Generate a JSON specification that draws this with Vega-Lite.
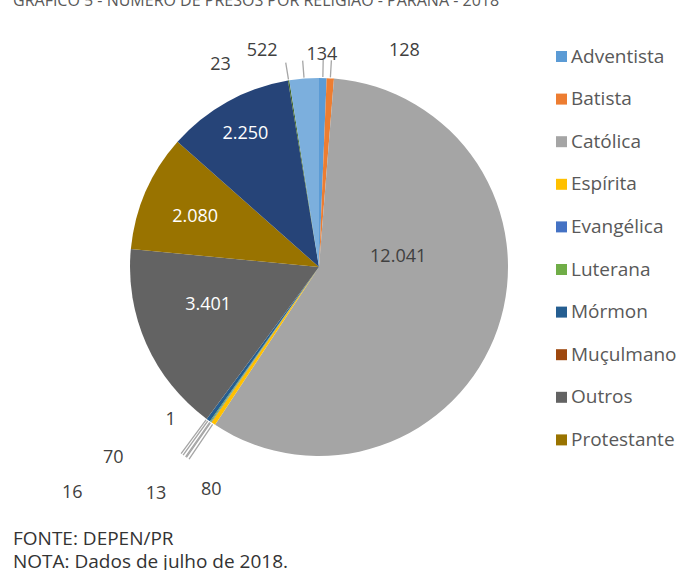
{
  "$schema": "https://vega.github.io/schema/vega-lite/v6.json",
  "width": 638,
  "height": 534,
  "autosize": {"type": "none"},
  "padding": {"left": 0, "top": 0, "right": 39, "bottom": 36},
  "background": "white",
  "title": {
    "text": "GRÁFICO 5 - NÚMERO DE PRESOS POR RELIGIÃO - PARANÁ - 2018",
    "subtitle": ["FONTE: DEPEN/PR", "NOTA: Dados de julho de 2018."],
    "orient": "top",
    "anchor": "start",
    "frame": "group",
    "dx": 13,
    "offset": -572,
    "font": "Open Sans",
    "fontSize": 16,
    "fontWeight": "normal",
    "color": "#595959",
    "subtitleFont": "Open Sans",
    "subtitleFontSize": 19,
    "subtitleColor": "#333333",
    "subtitleLineHeight": 23,
    "subtitlePadding": 521
  },
  "data": {
    "values": [
      {"religiao": "Adventista", "valor": 134},
      {"religiao": "Batista", "valor": 128},
      {"religiao": "Católica", "valor": 12041},
      {"religiao": "Espírita", "valor": 80},
      {"religiao": "Evangélica", "valor": 13},
      {"religiao": "Luterana", "valor": 16},
      {"religiao": "Mórmon", "valor": 70},
      {"religiao": "Muçulmano", "valor": 1},
      {"religiao": "Outros", "valor": 3401},
      {"religiao": "Protestante", "valor": 2080},
      {"religiao": "Sem religião", "valor": 2250},
      {"religiao": "Testemunha de Jeová", "valor": 23},
      {"religiao": "Umbanda", "valor": 522}
    ]
  },
  "transform": [{"window": [{"op": "row_number", "as": "ordem"}]}],
  "layer": [
    {
      "mark": {"type": "arc", "radius": 189},
      "encoding": {
        "theta": {"field": "valor", "type": "quantitative", "stack": true},
        "order": {"field": "ordem", "type": "quantitative"},
        "color": {
          "field": "religiao",
          "type": "nominal",
          "scale": {
            "domain": ["Adventista", "Batista", "Católica", "Espírita", "Evangélica", "Luterana", "Mórmon", "Muçulmano", "Outros", "Protestante", "Sem religião", "Testemunha de Jeová", "Umbanda"],
            "range": ["#5B9BD5", "#ED7D31", "#A5A5A5", "#FFC000", "#4472C4", "#70AD47", "#255E91", "#9E480E", "#636363", "#997300", "#264478", "#43682B", "#7CAFDD"]
          },
          "legend": {
            "orient": "none",
            "legendX": 552,
            "legendY": 47,
            "title": null,
            "padding": 0,
            "values": ["Adventista", "Batista", "Católica", "Espírita", "Evangélica", "Luterana", "Mórmon", "Muçulmano", "Outros", "Protestante"],
            "symbolType": "square",
            "symbolSize": 121,
            "symbolStrokeWidth": 0,
            "labelFont": "Open Sans",
            "labelFontSize": 19,
            "labelColor": "#595959",
            "labelOffset": 0,
            "labelLimit": 200,
            "rowPadding": 22.6
          }
        }
      }
    },
    {
      "mark": {"type": "arc", "radius": 207, "radius2": 190, "padAngle": 1.5, "fillOpacity": 0, "stroke": "#a6a6a6", "strokeWidth": 1.3},
      "encoding": {
        "theta": {"field": "valor", "type": "quantitative", "stack": true},
        "order": {"field": "ordem", "type": "quantitative"},
        "strokeOpacity": {"condition": {"test": "indexof(['Adventista','Batista','Testemunha de Jeová','Umbanda'], datum.religiao) >= 0", "value": 1}, "value": 0}
      }
    },
    {
      "mark": {"type": "arc", "radius": 232, "radius2": 190, "padAngle": 1.5, "fillOpacity": 0, "stroke": "#a6a6a6", "strokeWidth": 1.3},
      "encoding": {
        "theta": {"field": "valor", "type": "quantitative", "stack": true},
        "order": {"field": "ordem", "type": "quantitative"},
        "strokeOpacity": {"condition": {"test": "indexof(['Espírita','Evangélica','Luterana','Mórmon','Muçulmano'], datum.religiao) >= 0", "value": 1}, "value": 0}
      }
    },
    {"mark": {"type": "text", "radius": 89, "dx": -5, "dy": -39, "font": "Open Sans", "fontSize": 18, "color": "#404040"},
     "encoding": {"theta": {"field": "valor", "type": "quantitative", "stack": true}, "order": {"field": "ordem", "type": "quantitative"}, "text": {"field": "valor", "type": "quantitative", "format": ",d"}, "opacity": {"condition": {"test": "datum.religiao === 'Católica'", "value": 1}, "value": 0}}},
    {"mark": {"type": "text", "radius": 117, "dx": -4, "dy": -10, "font": "Open Sans", "fontSize": 18, "color": "white"},
     "encoding": {"theta": {"field": "valor", "type": "quantitative", "stack": true}, "order": {"field": "ordem", "type": "quantitative"}, "text": {"field": "valor", "type": "quantitative", "format": ",d"}, "opacity": {"condition": {"test": "datum.religiao === 'Outros'", "value": 1}, "value": 0}}},
    {"mark": {"type": "text", "radius": 134, "dx": -1, "dy": 3, "font": "Open Sans", "fontSize": 18, "color": "white"},
     "encoding": {"theta": {"field": "valor", "type": "quantitative", "stack": true}, "order": {"field": "ordem", "type": "quantitative"}, "text": {"field": "valor", "type": "quantitative", "format": ",d"}, "opacity": {"condition": {"test": "datum.religiao === 'Protestante'", "value": 1}, "value": 0}}},
    {"mark": {"type": "text", "radius": 152, "font": "Open Sans", "fontSize": 18, "color": "white"},
     "encoding": {"theta": {"field": "valor", "type": "quantitative", "stack": true}, "order": {"field": "ordem", "type": "quantitative"}, "text": {"field": "valor", "type": "quantitative", "format": ",d"}, "opacity": {"condition": {"test": "datum.religiao === 'Sem religião'", "value": 1}, "value": 0}}},
    {"mark": {"type": "text", "radius": 189, "dx": 74, "dy": -27, "font": "Open Sans", "fontSize": 18, "color": "#404040"},
     "encoding": {"theta": {"field": "valor", "type": "quantitative", "stack": true}, "order": {"field": "ordem", "type": "quantitative"}, "text": {"field": "valor", "type": "quantitative", "format": ",d"}, "opacity": {"condition": {"test": "datum.religiao === 'Batista'", "value": 1}, "value": 0}}},
    {"mark": {"type": "text", "radius": 189, "dx": -1, "dy": -23, "font": "Open Sans", "fontSize": 18, "color": "#404040"},
     "encoding": {"theta": {"field": "valor", "type": "quantitative", "stack": true}, "order": {"field": "ordem", "type": "quantitative"}, "text": {"field": "valor", "type": "quantitative", "format": ",d"}, "opacity": {"condition": {"test": "datum.religiao === 'Adventista'", "value": 1}, "value": 0}}},
    {"mark": {"type": "text", "radius": 189, "dx": -42, "dy": -28, "font": "Open Sans", "fontSize": 18, "color": "#404040"},
     "encoding": {"theta": {"field": "valor", "type": "quantitative", "stack": true}, "order": {"field": "ordem", "type": "quantitative"}, "text": {"field": "valor", "type": "quantitative", "format": ",d"}, "opacity": {"condition": {"test": "datum.religiao === 'Umbanda'", "value": 1}, "value": 0}}},
    {"mark": {"type": "text", "radius": 189, "dx": -68, "dy": -15, "font": "Open Sans", "fontSize": 18, "color": "#404040"},
     "encoding": {"theta": {"field": "valor", "type": "quantitative", "stack": true}, "order": {"field": "ordem", "type": "quantitative"}, "text": {"field": "valor", "type": "quantitative", "format": ",d"}, "opacity": {"condition": {"test": "datum.religiao === 'Testemunha de Jeová'", "value": 1}, "value": 0}}},
    {"mark": {"type": "text", "radius": 189, "dx": -2, "dy": 66, "font": "Open Sans", "fontSize": 18, "color": "#404040"},
     "encoding": {"theta": {"field": "valor", "type": "quantitative", "stack": true}, "order": {"field": "ordem", "type": "quantitative"}, "text": {"field": "valor", "type": "quantitative", "format": ",d"}, "opacity": {"condition": {"test": "datum.religiao === 'Espírita'", "value": 1}, "value": 0}}},
    {"mark": {"type": "text", "radius": 189, "dx": -55, "dy": 72, "font": "Open Sans", "fontSize": 18, "color": "#404040"},
     "encoding": {"theta": {"field": "valor", "type": "quantitative", "stack": true}, "order": {"field": "ordem", "type": "quantitative"}, "text": {"field": "valor", "type": "quantitative", "format": ",d"}, "opacity": {"condition": {"test": "datum.religiao === 'Evangélica'", "value": 1}, "value": 0}}},
    {"mark": {"type": "text", "radius": 189, "dx": -138, "dy": 71, "font": "Open Sans", "fontSize": 18, "color": "#404040"},
     "encoding": {"theta": {"field": "valor", "type": "quantitative", "stack": true}, "order": {"field": "ordem", "type": "quantitative"}, "text": {"field": "valor", "type": "quantitative", "format": ",d"}, "opacity": {"condition": {"test": "datum.religiao === 'Luterana'", "value": 1}, "value": 0}}},
    {"mark": {"type": "text", "radius": 189, "dx": -95, "dy": 38, "font": "Open Sans", "fontSize": 18, "color": "#404040"},
     "encoding": {"theta": {"field": "valor", "type": "quantitative", "stack": true}, "order": {"field": "ordem", "type": "quantitative"}, "text": {"field": "valor", "type": "quantitative", "format": ",d"}, "opacity": {"condition": {"test": "datum.religiao === 'Mórmon'", "value": 1}, "value": 0}}},
    {"mark": {"type": "text", "radius": 189, "dx": -36, "dy": 1, "font": "Open Sans", "fontSize": 18, "color": "#404040"},
     "encoding": {"theta": {"field": "valor", "type": "quantitative", "stack": true}, "order": {"field": "ordem", "type": "quantitative"}, "text": {"field": "valor", "type": "quantitative", "format": ",d"}, "opacity": {"condition": {"test": "datum.religiao === 'Muçulmano'", "value": 1}, "value": 0}}}
  ],
  "config": {
    "view": {"stroke": null},
    "locale": {"number": {"decimal": ",", "thousands": ".", "grouping": [3], "currency": ["R$ ", ""]}}
  }
}
